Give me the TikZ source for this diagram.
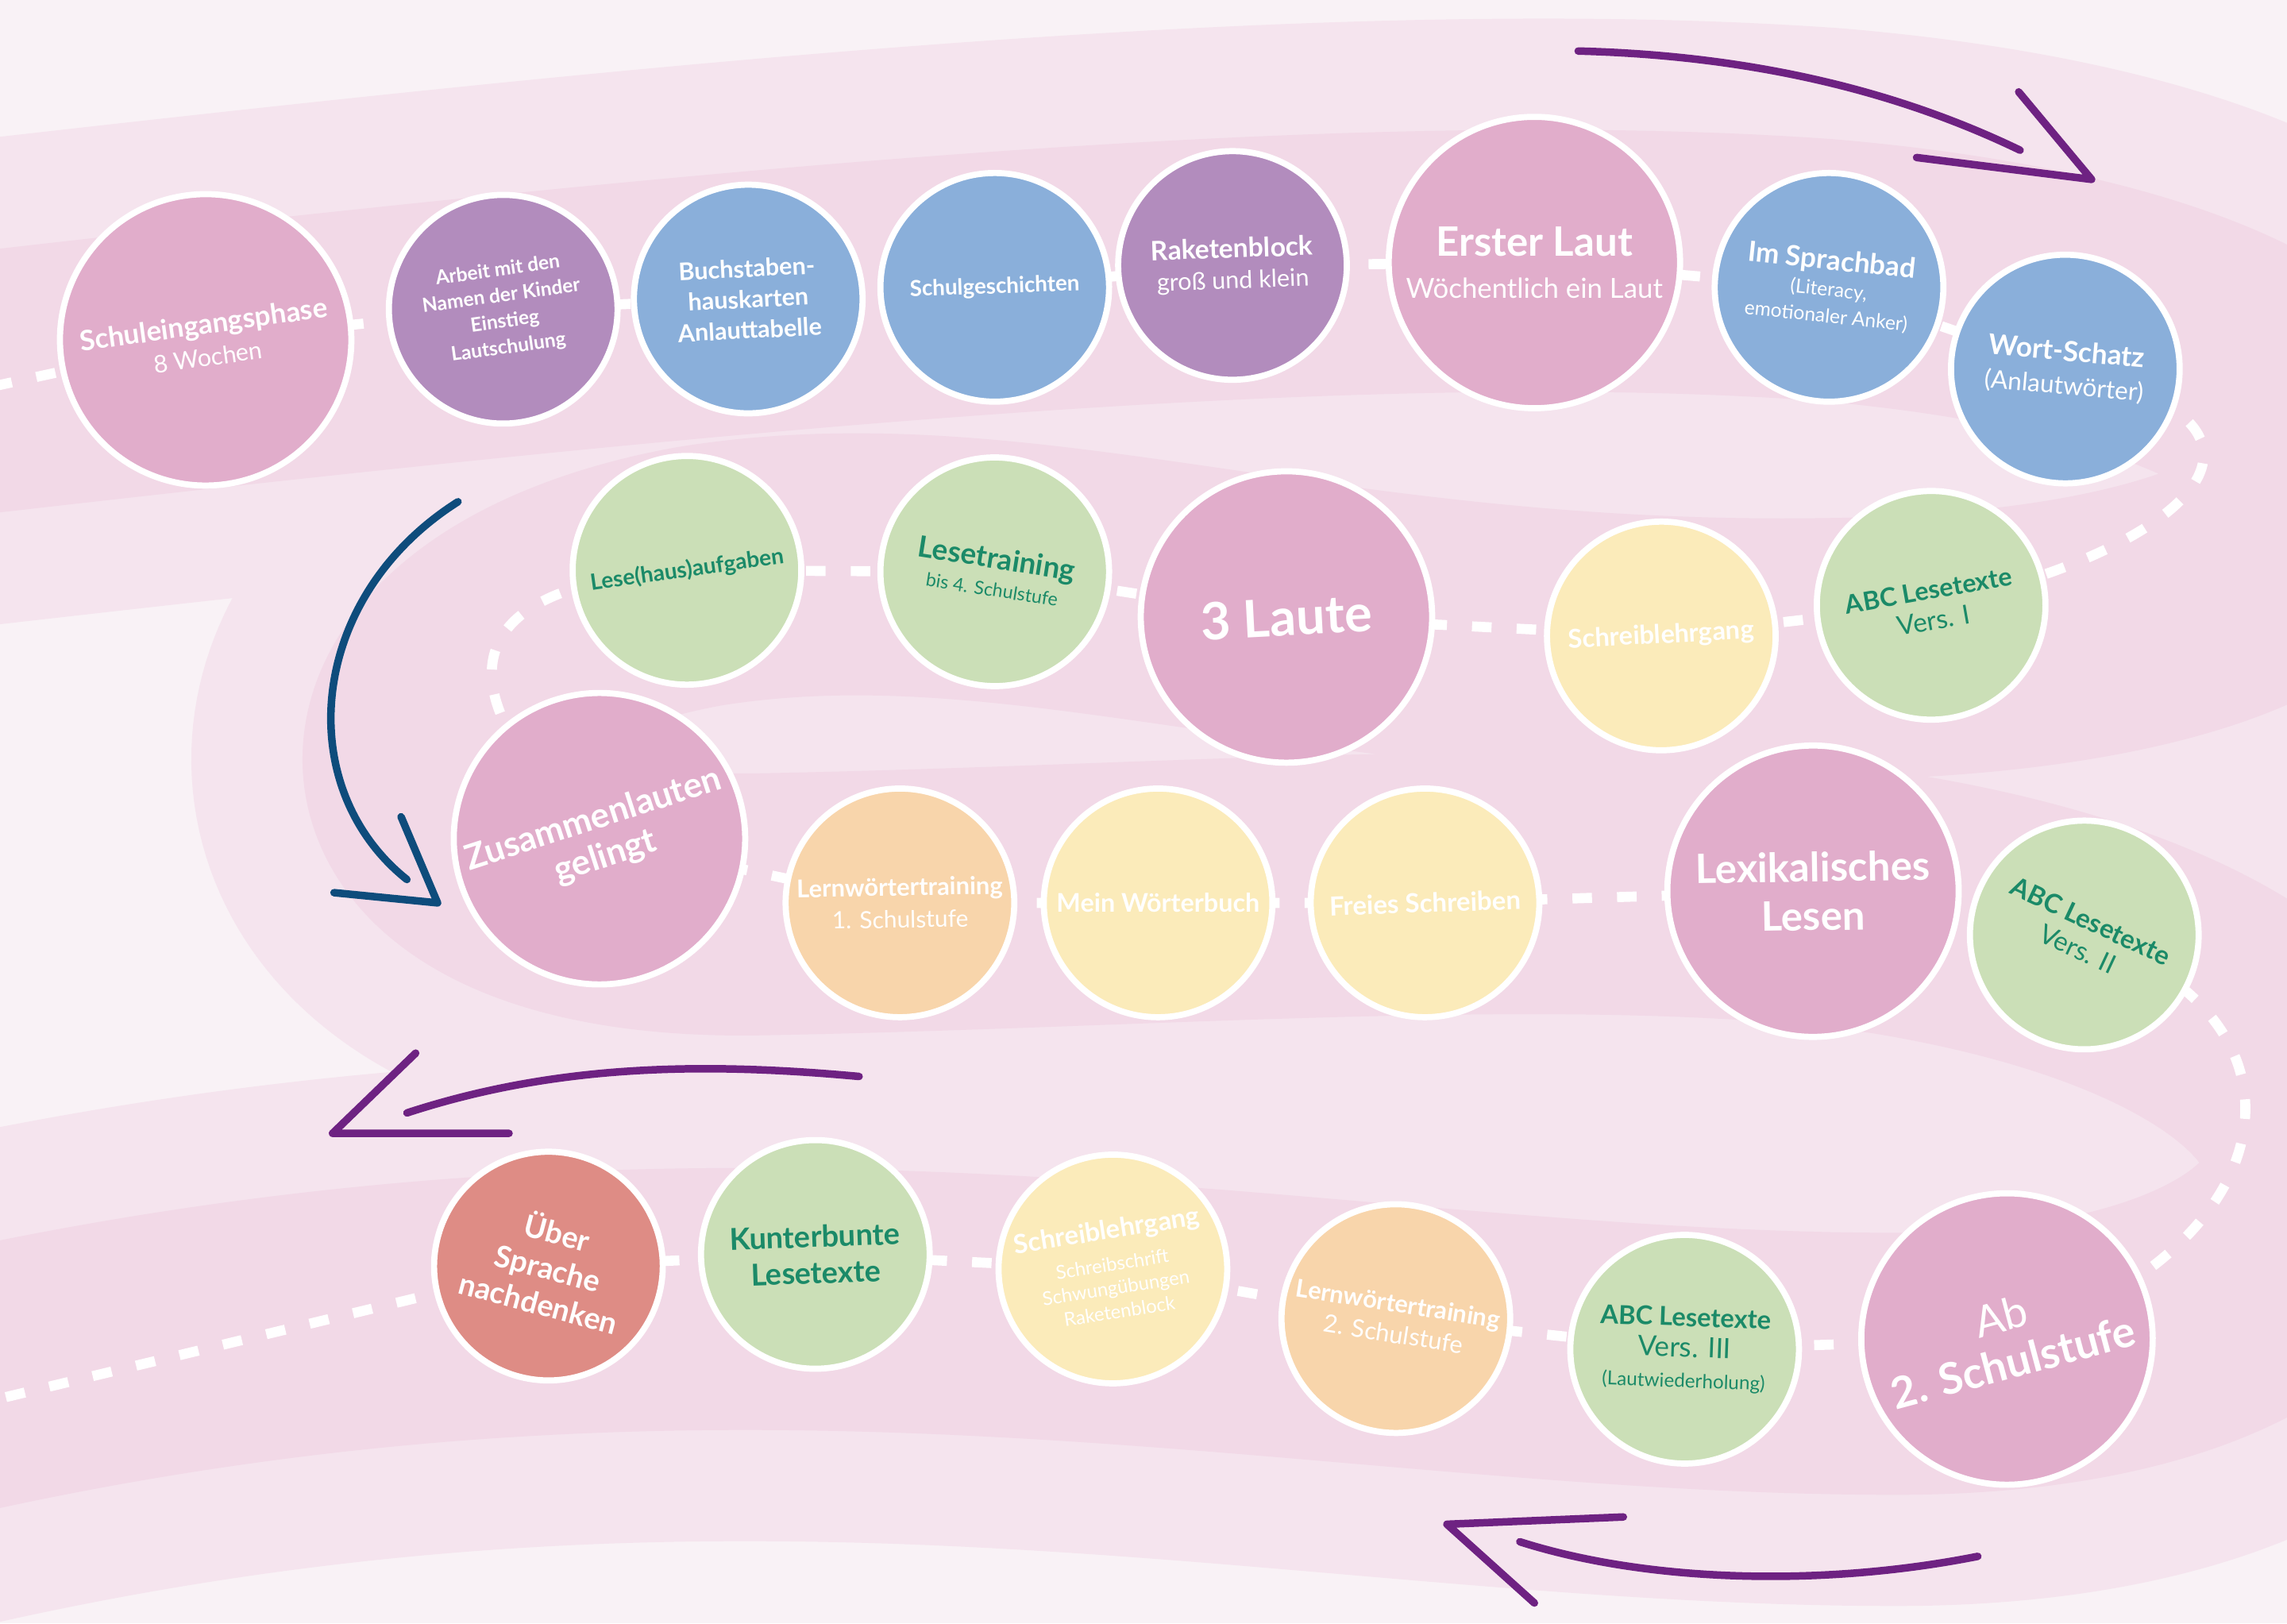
\documentclass[tikz,border=0pt]{standalone}
\usepackage{fontspec}
\setmainfont{Lato}
\definecolor{grund}{HTML}{F9F2F6}
\definecolor{strasse}{HTML}{F5E4EE}
\definecolor{spur}{HTML}{F2D9E7}
\definecolor{rosa}{HTML}{E1ADCB}
\definecolor{lila}{HTML}{B28CBD}
\definecolor{blau}{HTML}{8AAFDA}
\definecolor{gruen}{HTML}{CBDFB7}
\definecolor{gelb}{HTML}{FBEBBA}
\definecolor{apricot}{HTML}{F8D5AB}
\definecolor{lachs}{HTML}{DE8C85}
\definecolor{gruentext}{HTML}{1B8A68}
\definecolor{pfeillila}{HTML}{6E2282}
\definecolor{pfeilblau}{HTML}{0E4C7C}
\newcommand{\fs}[2]{\fontsize{#1}{#2}\selectfont}
\pgfdeclarelayer{strassenlage}
\pgfdeclarelayer{weglage}
\pgfsetlayers{strassenlage,weglage,main}

\begin{document}
\begin{tikzpicture}[x=0.018367cm, y=-0.018367cm,
  stage/.style={circle, draw=white, line width=2.2pt, minimum size=2.88cm,
    inner sep=0pt, align=center, text=white},
  bigstage/.style={stage, minimum size=3.67cm},
  weg/.style={white, line width=3.6pt, dash pattern=on 7pt off 9pt},
  pfeil/.style={line width=2.7pt, line cap=round, line join=round}]
\useasboundingbox (0,0) rectangle (1568,1113);

% Strasse im Hintergrund
\begin{pgfonlayer}{strassenlage}
\fill [grund] (0,0) rectangle (1568,1113);
\draw [strasse, line width=6.1cm]
  (-80,270) .. controls (400,215) and (900,160) .. (1250,185)
  .. controls (1720,225) and (1720,440) .. (1250,445)
  .. controls (900,450) and (700,360) .. (480,395)
  .. controls (230,440) and (230,625) .. (520,620)
  .. controls (800,615) and (1100,590) .. (1300,620)
  .. controls (1720,690) and (1680,935) .. (1300,935)
  .. controls (900,935) and (500,820) .. (-80,960);
\draw [spur, line width=3.3cm]
  (-80,270) .. controls (400,215) and (900,160) .. (1250,185)
  .. controls (1720,225) and (1720,440) .. (1250,445)
  .. controls (900,450) and (700,360) .. (480,395)
  .. controls (230,440) and (230,625) .. (520,620)
  .. controls (800,615) and (1100,590) .. (1300,620)
  .. controls (1720,690) and (1680,935) .. (1300,935)
  .. controls (900,935) and (500,820) .. (-80,960);
\end{pgfonlayer}

% Stationen, Reihe 1
\node [bigstage, fill=rosa, rotate=8, font=\bfseries\fs{10}{11.5}] (schul) at (141,233)
  {Schuleingangsphase\\{\mdseries\fs{8.7}{10}8 Wochen}};
\node [stage, fill=lila, rotate=8, font=\bfseries\fs{7}{9.3}] (arbeit) at (345,212)
  {Arbeit mit den\\Namen der Kinder\\Einstieg\\Lautschulung};
\node [stage, fill=blau, rotate=3, font=\bfseries\fs{8.7}{11}] (buch) at (513,205)
  {Buchstaben-\\hauskarten\\Anlauttabelle};
\node [stage, fill=blau, rotate=2, font=\bfseries\fs{7.9}{9}] (geschichten) at (682,197)
  {Schulgeschichten};
\node [stage, fill=lila, rotate=2, font=\bfseries\fs{9.6}{11}] (rakete) at (845,182)
  {Raketenblock\\{\mdseries\fs{8.7}{10}groß und klein}};
\node [bigstage, fill=rosa, font=\bfseries\fs{14.5}{15}] (erster) at (1052,180)
  {Erster Laut\\{\mdseries\fs{9.9}{11}Wöchentlich ein Laut}};
\node [stage, fill=blau, rotate=-6, font=\bfseries\fs{10}{9.5}] (sprachbad) at (1254,197)
  {Im Sprachbad\\{\mdseries\fs{7}{8}(Literacy,}\\{\mdseries\fs{7}{8}emotionaler Anker)}};
\node [stage, fill=blau, rotate=-5, font=\bfseries\fs{10}{12}] (wort) at (1416,253)
  {Wort-Schatz\\{\mdseries\fs{9}{10}(Anlautwörter)}};

% Reihe 2
\node [stage, fill=gruen, text=gruentext, rotate=8, font=\bfseries\fs{8}{9}] (lesehaus) at (471,391)
  {Lese(haus)aufgaben};
\node [stage, fill=gruen, text=gruentext, rotate=-9, font=\bfseries\fs{10.5}{10}] (lesetraining) at (682,392)
  {Lesetraining\\{\mdseries\fs{6.6}{7}bis 4. Schulstufe}};
\node [bigstage, fill=rosa, rotate=3, font=\bfseries\fs{18.5}{20}] (laute) at (882,423)
  {3 Laute};
\node [stage, fill=gelb, rotate=3, font=\bfseries\fs{9.3}{11}] (schreib1) at (1139,436)
  {Schreiblehrgang};
\node [stage, fill=gruen, text=gruentext, rotate=10, font=\bfseries\fs{9.2}{11}] (abc1) at (1324,415)
  {ABC Lesetexte\\{\mdseries\fs{9.5}{10}Vers. I}};

% Reihe 3
\node [bigstage, fill=rosa, rotate=18, font=\bfseries\fs{12.5}{14}] (zusammen) at (411,575)
  {Zusammenlauten\\gelingt};
\node [stage, fill=apricot, rotate=1, font=\bfseries\fs{8.8}{11.5}] (lern1) at (617,619)
  {Lernwörtertraining\\{\mdseries\fs{8.5}{10}1. Schulstufe}};
\node [stage, fill=gelb, font=\bfseries\fs{9.2}{11}] (woerterbuch) at (794,619)
  {Mein Wörterbuch};
\node [stage, fill=gelb, rotate=2, font=\bfseries\fs{9.4}{11}] (freies) at (977,619)
  {Freies Schreiben};
\node [bigstage, fill=rosa, rotate=1, font=\bfseries\fs{14.5}{17.5}] (lexikal) at (1243,611)
  {Lexikalisches\\Lesen};
\node [stage, fill=gruen, text=gruentext, rotate=-25, font=\bfseries\fs{9.4}{11}] (abc2) at (1429,641)
  {ABC Lesetexte\\{\mdseries\fs{9.5}{10}Vers. II}};

% Reihe 4
\node [stage, fill=lachs, rotate=-15, font=\bfseries\fs{10.8}{13}] (ueber) at (376,868)
  {Über\\Sprache\\nachdenken};
\node [stage, fill=gruen, text=gruentext, rotate=2, font=\bfseries\fs{10.8}{13}] (kunter) at (559,860)
  {Kunterbunte\\Lesetexte};
\node [stage, fill=gelb, rotate=9, font=\bfseries\fs{9.4}{8.5}] (schreib2) at (763,870)
  {Schreiblehrgang\\[3pt]{\mdseries\fs{6.8}{7}Schreibschrift}\\{\mdseries\fs{6.8}{7}Schwungübungen}\\{\mdseries\fs{6.8}{7}Raketenblock}};
\node [stage, fill=apricot, rotate=-9, font=\bfseries\fs{8.8}{11}] (lern2) at (957,904)
  {Lernwörtertraining\\{\mdseries\fs{8.8}{10}2. Schulstufe}};
\node [stage, fill=gruen, text=gruentext, rotate=-2, font=\bfseries\fs{9.3}{11}] (abc3) at (1155,925)
  {ABC Lesetexte\\{\mdseries\fs{10}{11}Vers. III}\\{\mdseries\fs{6.9}{8}(Lautwiederholung)}};
\node [bigstage, fill=rosa, rotate=15, font=\bfseries\fs{15.5}{17}] (ab2) at (1376,918)
  {{\mdseries Ab}\\2. Schulstufe};

% gestrichelter Weg
\coordinate (wegstart) at (-5,265);
\coordinate (wegende) at (-5,960);
\begin{pgfonlayer}{weglage}
\draw [weg] (wegstart) -- (schul.center) -- (arbeit.center) -- (buch.center)
  -- (geschichten.center) -- (rakete.center) -- (erster.center) -- (sprachbad.center)
  -- (wort.center) .. controls +(180,40) and +(170,-35) .. (abc1.center)
  -- (schreib1.center) -- (laute.center) -- (lesetraining.center) -- (lesehaus.center)
  .. controls +(-175,10) and +(-100,-90) .. (zusammen.center)
  -- (lern1.center) -- (woerterbuch.center) -- (freies.center) -- (lexikal.center)
  -- (abc2.center) .. controls +(170,60) and +(190,-60) .. (ab2.center)
  -- (abc3.center) -- (lern2.center) -- (schreib2.center) -- (kunter.center)
  -- (ueber.center) -- (wegende);
\end{pgfonlayer}

% Pfeile
\draw [pfeil, pfeillila] (1082,35) .. controls (1200,38) and (1300,62) .. (1385,103);
\draw [pfeil, pfeillila] (1384,63) -- (1434,123) -- (1314,108);
\draw [pfeil, pfeilblau] (314,344) .. controls (210,410) and (200,540) .. (279,603);
\draw [pfeil, pfeilblau] (275,560) -- (300,619) -- (229,612);
\draw [pfeil, pfeillila] (589,738) .. controls (480,728) and (380,730) .. (279,763);
\draw [pfeil, pfeillila] (285,722) -- (228,777) -- (349,777);
\draw [pfeil, pfeillila] (1356,1067) .. controls (1250,1088) and (1130,1085) .. (1042,1057);
\draw [pfeil, pfeillila] (1113,1040) -- (992,1045) -- (1052,1099);
\end{tikzpicture}
\end{document}
